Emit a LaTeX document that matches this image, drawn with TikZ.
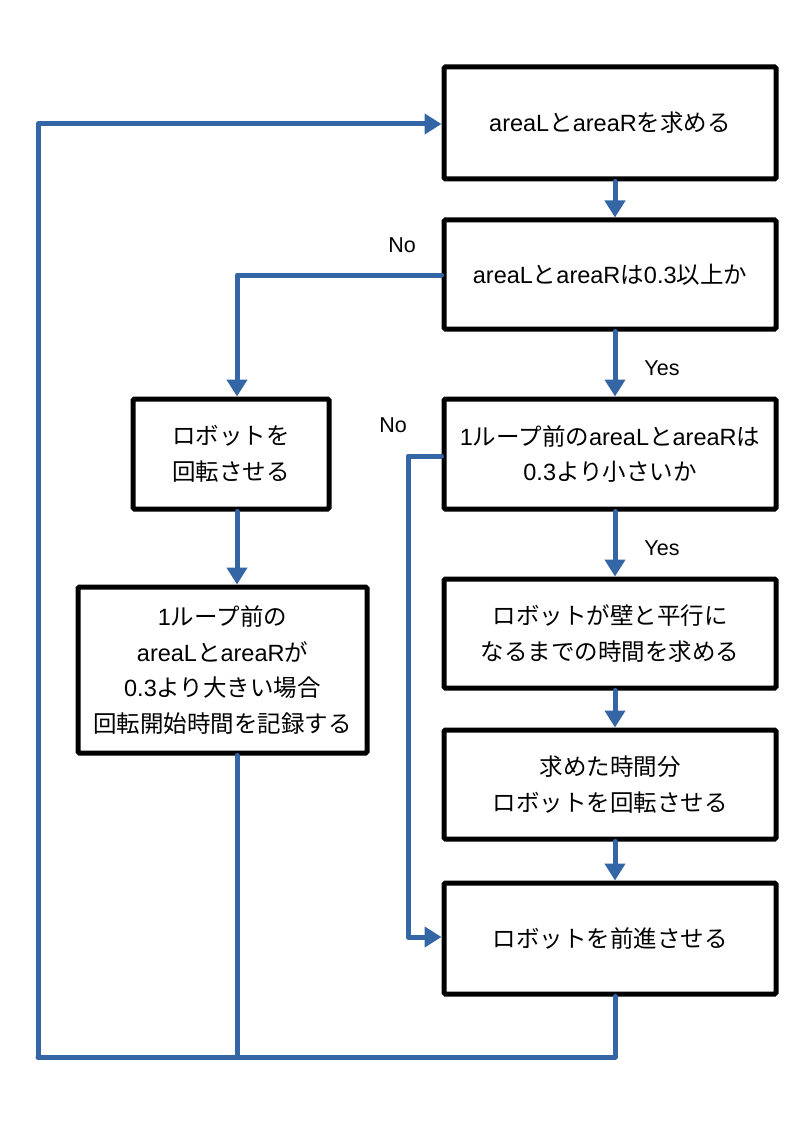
\documentclass[tikz,border=0pt]{standalone}
\usepackage{fontspec}
\setmainfont{Liberation Sans}
\newfontfamily\jp{Noto Sans CJK JP}
\newcommand\J[1]{{\jp #1}}
\usetikzlibrary{arrows.meta,calc}
\definecolor{flowblue}{RGB}{52,101,164}
\begin{document}
\begin{tikzpicture}[x=1pt,y=-1pt,
  box/.style={draw=black,line width=5pt,rounded corners=1.5pt,fill=white,align=center,
    inner sep=0pt,font=\fontsize{23.5}{35.5}\selectfont},
  conn/.style={draw=flowblue,line width=5pt,line cap=round,line join=round},
  arr/.style={conn,-{Triangle[length=17pt,width=20pt]}},
  lbl/.style={font=\fontsize{21.5}{25}\selectfont,inner sep=0pt}]
\useasboundingbox (0,0) rectangle (794,1123);
\node[box,minimum width=332pt,minimum height=112pt] (b1) at (610,123) {areaL\J{と}areaR\J{を求める}};
\node[box,minimum width=332pt,minimum height=109pt] (b2) at (610,274.5) {areaL\J{と}areaR\J{は}0.3\J{以上か}};
\node[box,minimum width=196pt,minimum height=110pt] (b3) at (231,454) {\J{ロボットを}\\\J{回転させる}};
\node[box,minimum width=332pt,minimum height=110pt] (b4) at (610,454) {1\J{ループ前の}areaL\J{と}areaR\J{は}\\0.3\J{より小さいか}};
\node[box,minimum width=289pt,minimum height=166pt] (b5) at (222.5,670) {1\J{ループ前の}\\areaL\J{と}areaR\J{が}\\0.3\J{より大きい場合}\\\J{回転開始時間を記録する}};
\node[box,minimum width=332pt,minimum height=109pt] (b6) at (610,633.5) {\J{ロボットが壁と平行に}\\\J{なるまでの時間を求める}};
\node[box,minimum width=332pt,minimum height=109pt] (b7) at (610,784.5) {\J{求めた時間分}\\\J{ロボットを回転させる}};
\node[box,minimum width=332pt,minimum height=111pt] (b8) at (610,938.5) {\J{ロボットを前進させる}};
\coordinate (cR) at (615,0);
\coordinate (cL) at (237,0);
\coordinate (bl) at (38,1057);
\coordinate (bm) at (237,1057);
\coordinate (br) at (615,1057);
\coordinate (n1) at (237,275);
\coordinate (n2) at (408,456);
\coordinate (n3) at (408,937);
% main flow
\draw[arr] (b1.south -| cR) -- (b2.north -| cR);
\draw[arr] (b2.south -| cR) -- (b4.north -| cR);
\draw[arr] (b4.south -| cR) -- (b6.north -| cR);
\draw[arr] (b6.south -| cR) -- (b7.north -| cR);
\draw[arr] (b7.south -| cR) -- (b8.north -| cR);
% No branch from b2
\draw[arr] (b2.west |- n1) -- (n1) -- (b3.north -| cL);
\draw[arr] (b3.south -| cL) -- (b5.north -| cL);
% No branch from b4
\draw[arr] (b4.west |- n2) -- (n2) -- (n3) -- (b8.west |- n3);
% loop back
\draw[conn] (b8.south -| cR) -- (br) -- (bl);
\draw[conn] (b5.south -| cL) -- (bm);
\draw[arr] (bl) -- (38,124) -- (b1.west |- 0,124);
% labels
\node[lbl] (no1) at (402,245) {No};
\node[lbl] (no2) at (393,425) {No};
\node[lbl] (yes1) at (662,368) {Yes};
\node[lbl] (yes2) at (662,548) {Yes};
\end{tikzpicture}
\end{document}
